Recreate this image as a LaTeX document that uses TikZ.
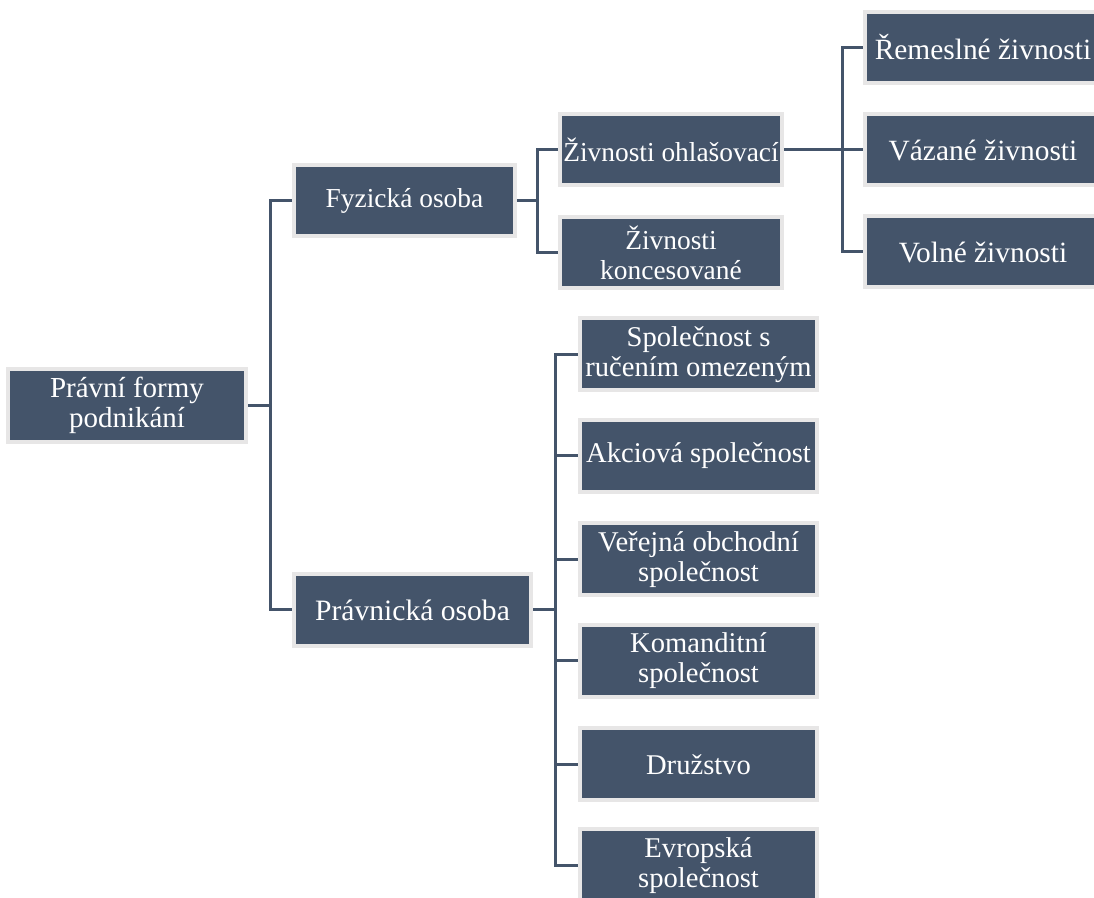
\documentclass[tikz,border=0pt]{standalone}
\usepackage{fontspec}
\setmainfont{Liberation Serif}
\usetikzlibrary{backgrounds}
\definecolor{boxfill}{HTML}{44546A}
\definecolor{boxedge}{HTML}{E7E6E6}
\begin{document}
\begin{tikzpicture}[x=0.5pt,y=-0.5pt,
  box/.style={draw=boxedge,line width=2pt,fill=boxfill,text=white,inner sep=0pt,
    align=center},
  fs/.style={font=\fontsize{#1}{15}\selectfont},
  lvlA/.style={box,fs=14.5,minimum width=119pt,minimum height=36.5pt},
  lvlB/.style={box,fs=13.7,minimum width=110.5pt,minimum height=35.5pt},
  lvlBw/.style={box,fs=14.8,minimum width=118.5pt,minimum height=36pt},
  lvlC/.style={box,fs=13.7,minimum width=111pt,minimum height=35.5pt},
  lvlD/.style={box,fs=14.7,minimum width=118pt,minimum height=35.5pt},
  lvlE/.style={box,fs=14.3,minimum width=118.5pt,minimum height=36pt},
  link/.style={draw=boxfill,line width=1.5pt}]
\clip (0,0) rectangle (1094,898);

\node[lvlA] (root) at (127,405.5) {Právní formy\\podnikání};
\node[lvlB] (fyz) at (404.5,200.5) {Fyzická osoba};
\node[lvlBw] (prav) at (412.5,610) {Právnická osoba};
\node[lvlC] (zo) at (671,150) {Živnosti ohlašovací};
\node[lvlC] (zk) at (671,252.5) {Živnosti\\koncesované};
\node[lvlD] (rem) at (983,47.5) {Řemeslné živnosti};
\node[lvlD] (vaz) at (983,150) {Vázané živnosti};
\node[lvlD] (vol) at (983,252) {Volné živnosti};
\node[lvlE] (sro) at (698.5,354.5) {Společnost s\\ručením omezeným};
\node[lvlE] (akc) at (698.5,456) {Akciová společnost};
\node[lvlE] (ver) at (698.5,559.5) {Veřejná obchodní\\společnost};
\node[lvlE] (kom) at (698.5,661) {Komanditní\\společnost};
\node[lvlE] (dru) at (698.5,764.5) {Družstvo};
\node[lvlE] (evr) at (698.5,865.5) {Evropská\\společnost};

\coordinate (j1) at (270,405.5);
\coordinate (j2) at (537,200.5);
\coordinate (j3) at (842,150);
\coordinate (j4) at (555,610);

\begin{pgfonlayer}{background}
\fill[white] (0,0) rectangle (1094,898);
\draw[link] (root.east) -- (j1);
\draw[link] (j1) |- (fyz.west);
\draw[link] (j1) |- (prav.west);
\draw[link] (fyz.east) -- (j2);
\draw[link] (j2) |- (zo.west);
\draw[link] (j2) |- (zk.west);
\draw[link] (zo.east) -- (j3);
\draw[link] (j3) |- (rem.west);
\draw[link] (j3) |- (vaz.west);
\draw[link] (j3) |- (vol.west);
\draw[link] (prav.east) -- (j4);
\draw[link] (j4) |- (sro.west);
\draw[link] (j4) |- (akc.west);
\draw[link] (j4) |- (ver.west);
\draw[link] (j4) |- (kom.west);
\draw[link] (j4) |- (dru.west);
\draw[link] (j4) |- (evr.west);
\end{pgfonlayer}
\end{tikzpicture}
\end{document}
